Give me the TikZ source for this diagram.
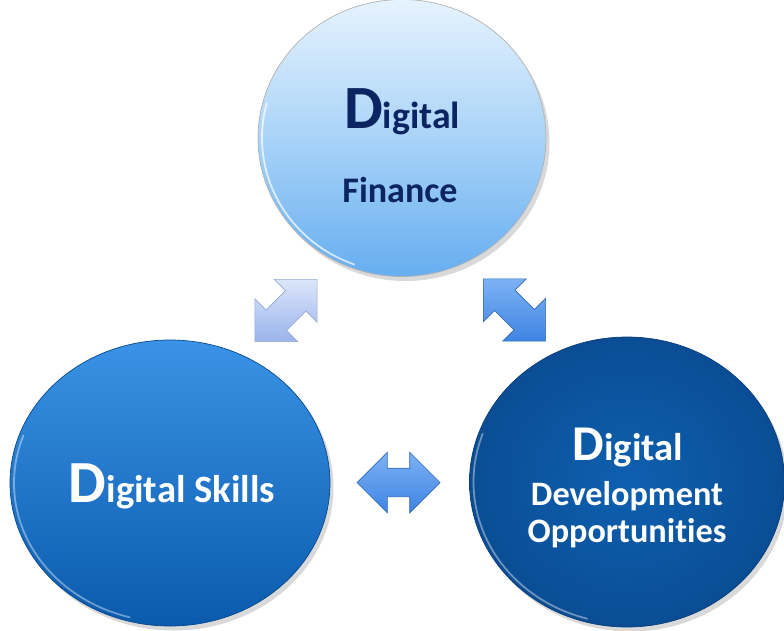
\documentclass[tikz,border=0pt]{standalone}
\usepackage{fontspec}
\setmainfont{Carlito}[Ligatures=NoCommon]
\usetikzlibrary{shapes.geometric,shapes.arrows,shadows,calc}

\definecolor{finTop}{HTML}{E6F3FD}
\definecolor{finMid}{HTML}{A9D3F8}
\definecolor{finBot}{HTML}{66AEF0}
\definecolor{navy}{HTML}{0C2461}
\definecolor{skTop}{HTML}{3A93E6}
\definecolor{skBot}{HTML}{0A5AAD}
\definecolor{devIn}{HTML}{0E60B0}
\definecolor{devOut}{HTML}{0A4D94}
\definecolor{lilacTop}{HTML}{DCE6FB}
\definecolor{lilacBot}{HTML}{9AB3EB}
\definecolor{blueTop}{HTML}{7CB2F4}
\definecolor{blueBot}{HTML}{3F84E3}

\newcommand{\capD}[1]{{\fontsize{#1}{#1}\selectfont D}}

\begin{document}
\begin{tikzpicture}[
		ball/.style={ellipse, inner sep=0pt, drop shadow={opacity=0.3, shadow xshift=0.07cm, shadow yshift=-0.09cm}},
		link/.style={double arrow, inner sep=0pt, inner ysep=0.28cm, minimum height=1.76cm,
			double arrow head extend=0.32cm, double arrow head indent=0pt, line width=0.4pt},
		word/.style={anchor=base, inner sep=0pt, font=\bfseries},
		rim/.style={white, opacity=0.4, line width=1pt, line cap=round}
	]
		\useasboundingbox (0, 0) rectangle (15.68, 12.6);
		\node [ball, minimum width=5.76cm, minimum height=5.54cm, draw=gray!60, top color=finTop, bottom color=finBot, middle color=finMid] (fin) at (8.04, 9.84) {};
		\node [ball, minimum width=6.4cm, minimum height=5.72cm, draw=skBot!80!black, top color=skTop, bottom color=skBot] (skills) at (3.4, 2.94) {};
		\node [ball, minimum width=6.3cm, minimum height=5.8cm, draw=devOut!80!black, inner color=devIn, outer color=devOut] (dev) at (12.54, 2.96) {};
		\draw [rim] (skills.center) ++(160:3.12 and 2.78) arc [start angle=160, end angle=255, x radius=3.12, y radius=2.78];
		\draw [rim] (dev.center) ++(160:3.07 and 2.83) arc [start angle=160, end angle=255, x radius=3.07, y radius=2.83];
		\draw [rim, opacity=0.7] (fin.center) ++(165:2.8 and 2.69) arc [start angle=165, end angle=250, x radius=2.8, y radius=2.69];
		\node [word, text=navy] (finA) at (8.04, 10.04) {\capD{35}\fontsize{21.5}{24}\selectfont igital};
		\node [word, text=navy] (finB) at (8.0, 8.56) {\fontsize{20.5}{24}\selectfont Finance};
		\node [word, text=white] (skA) at (3.44, 2.56) {\capD{34}\fontsize{22}{26}\selectfont igital Skills};
		\node [word, text=white] (devA) at (12.56, 3.4) {\capD{28.5}\fontsize{22}{26}\selectfont igital};
		\node [word, text=white] (devB) at (12.54, 2.5) {\fontsize{19.5}{22}\selectfont Development};
		\node [word, text=white] (devC) at (12.54, 1.76) {\fontsize{19.5}{22}\selectfont Opportunities};
		\node [link, rotate=45, draw=lilacBot!80!gray, top color=lilacTop, bottom color=lilacBot] (ln1) at ($(fin)!0.5!(skills)$) {};
		\node [link, rotate=-45, draw=blueBot!80!black, top color=blueTop, bottom color=blueBot] (ln2) at ($(fin)!0.5!(dev)$) {};
		\node [link, minimum height=1.66cm, draw=blueBot!80!black, top color=blueTop, bottom color=blueBot] (ln3) at ($(skills)!0.5!(dev)$) {};
	\end{tikzpicture}
\end{document}
